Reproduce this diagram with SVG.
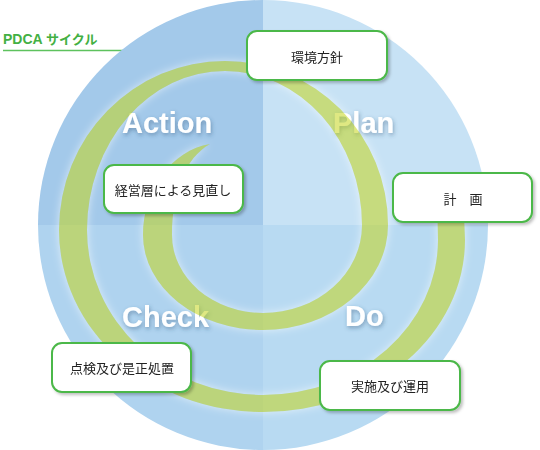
<svg xmlns="http://www.w3.org/2000/svg" width="540" height="450" viewBox="0 0 540 450">
  <style>
    .title { font-family: "Liberation Sans", "Noto Sans CJK JP", sans-serif; font-weight: bold; font-size: 14px; fill: #43b043; }
    .kana { font-family: "Noto Sans CJK JP", sans-serif; font-size: 13px; }
    .phase { font-family: "Liberation Sans", Arial, sans-serif; font-weight: bold; font-size: 29px; fill: #ffffff; }
    .box { fill: #ffffff; stroke: #4cb848; stroke-width: 2; }
    .lbl { font-family: "Noto Sans CJK JP", sans-serif; font-size: 13px; fill: #222222; text-anchor: middle; }
  </style>
  <defs>
    <filter id="ts" x="-20%" y="-40%" width="140%" height="180%">
      <feGaussianBlur in="SourceAlpha" stdDeviation="2" result="b"/>
      <feOffset in="b" dx="1" dy="2" result="o"/>
      <feFlood flood-color="#2d4f73" flood-opacity="0.45"/>
      <feComposite in2="o" operator="in" result="s"/>
      <feComposite in="s" in2="SourceAlpha" operator="out" result="s2"/>
      <feMerge><feMergeNode in="s2"/><feMergeNode in="SourceGraphic"/></feMerge>
    </filter>
    <filter id="bs" x="-10%" y="-20%" width="125%" height="150%">
      <feDropShadow dx="2" dy="2" stdDeviation="1.5" flood-color="#000" flood-opacity="0.25"/>
    </filter>
    <filter id="glow" x="-10%" y="-10%" width="120%" height="120%">
      <feGaussianBlur in="SourceAlpha" stdDeviation="4" result="b"/>
      <feFlood flood-color="#ffffff" flood-opacity="0.6"/>
      <feComposite in2="b" operator="in" result="g"/>
      <feComposite in="g" in2="SourceAlpha" operator="out"/>
    </filter>
    <path id="sp" d="M210,144 C172,150 143,190 143,235 A120,95 0 0 0 263,330 A125,105 0 0 0 388,225 A163,164 0 0 0 225,61 A166,169 0 0 0 59,230 A204,182 0 0 0 263,412 A202,172 0 0 0 465,240 L463,190 L437,190 L438,240 A175,155 0 0 1 263,395 A176,165 0 0 1 87,230 A138,159 0 0 1 225,71 A137,154 0 0 1 362,225 A99,88 0 0 1 263,313 A91,78 0 0 1 172,235 C172,192 185,158 210,144 Z"/>
  </defs>

  <line x1="3" y1="50.5" x2="200" y2="50.5" stroke="#5ec25e" stroke-width="1.5"/>
  <text class="title" x="3" y="44">PDCA <tspan class="kana">サイクル</tspan></text>

  <g id="disc">
    <path d="M263,225 L263,0 A225,225 0 0 0 38,225 Z" fill="#a3c9ea"/>
    <path d="M263,225 L263,0 A225,225 0 0 1 488,225 Z" fill="#c7e2f5"/>
    <path d="M263,225 L38,225 A225,225 0 0 0 263,450 Z" fill="#afd3ef"/>
    <path d="M263,225 L488,225 A225,225 0 0 1 263,450 Z" fill="#b8daf2"/>
  </g>

  <g id="phase-labels" filter="url(#ts)">
    <text class="phase" x="122" y="133">Action</text>
    <text class="phase" x="333" y="133">Plan</text>
    <text class="phase" x="122" y="327">Check</text>
    <text class="phase" x="345" y="326">Do</text>
  </g>

  <g id="connectors">
    <use href="#sp" fill="#000" filter="url(#glow)"/>
    <use href="#sp" fill="#c4d61c" fill-opacity="0.55"/>
  </g>

  <g id="node-policy" filter="url(#bs)">
    <rect class="box" x="247" y="31" width="140" height="49" rx="10"/>
    <text class="lbl" x="317" y="62">環境方針</text>
  </g>
  <g id="node-plan" filter="url(#bs)">
    <rect class="box" x="393" y="173" width="139" height="49" rx="10"/>
    <text class="lbl" x="463" y="204">計　画</text>
  </g>
  <g id="node-review" filter="url(#bs)">
    <rect class="box" x="104" y="165" width="139" height="48" rx="10"/>
    <text class="lbl" x="173" y="195">経営層による見直し</text>
  </g>
  <g id="node-check" filter="url(#bs)">
    <rect class="box" x="52" y="343" width="139" height="49" rx="10"/>
    <text class="lbl" x="122" y="373">点検及び是正処置</text>
  </g>
  <g id="node-do" filter="url(#bs)">
    <rect class="box" x="320" y="361" width="140" height="49" rx="10"/>
    <text class="lbl" x="390" y="391">実施及び運用</text>
  </g>
</svg>
